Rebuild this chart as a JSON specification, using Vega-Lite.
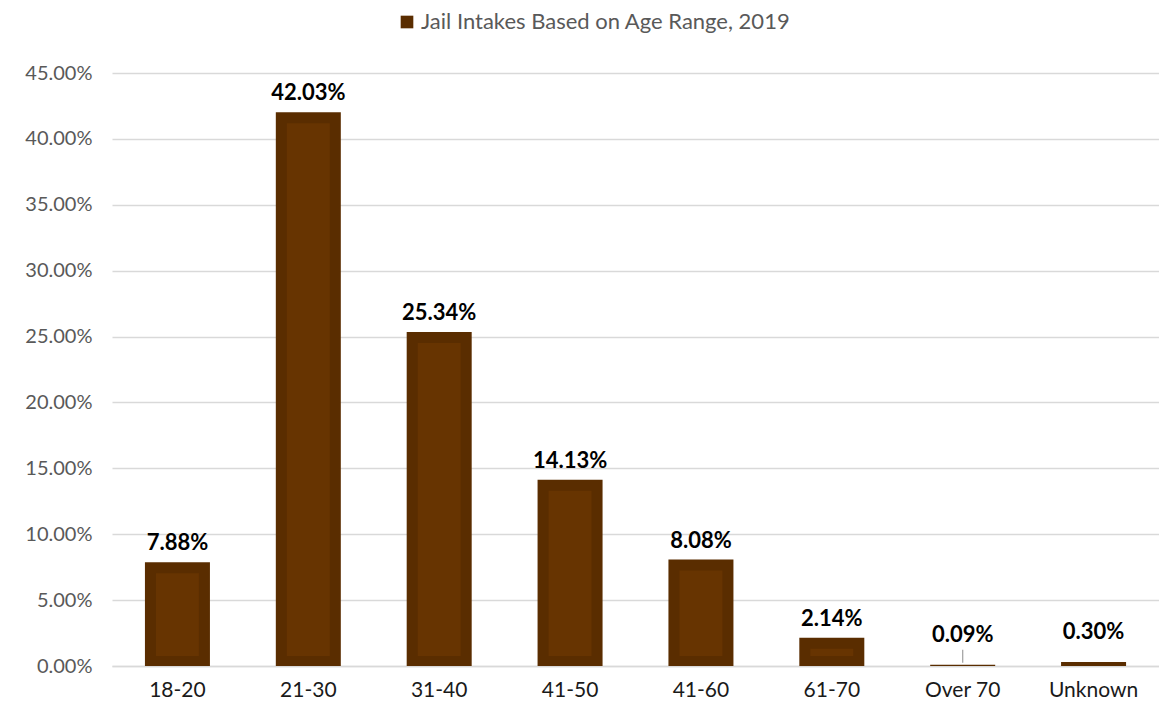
{
  "$schema": "https://vega.github.io/schema/vega-lite/v6.json",
  "autosize": "none",
  "width": 1047,
  "height": 593,
  "padding": {"left": 112, "top": 73, "right": 0, "bottom": 53},
  "background": "white",
  "config": {
    "font": "Lato",
    "view": {"stroke": null},
    "axis": {"labelFont": "Lato"}
  },
  "data": {
    "values": [
      {"age": "18-20", "pct": 0.0788, "series": "Jail Intakes Based on Age Range, 2019"},
      {"age": "21-30", "pct": 0.4203, "series": "Jail Intakes Based on Age Range, 2019"},
      {"age": "31-40", "pct": 0.2534, "series": "Jail Intakes Based on Age Range, 2019"},
      {"age": "41-50", "pct": 0.1413, "series": "Jail Intakes Based on Age Range, 2019"},
      {"age": "41-60", "pct": 0.0808, "series": "Jail Intakes Based on Age Range, 2019"},
      {"age": "61-70", "pct": 0.0214, "series": "Jail Intakes Based on Age Range, 2019"},
      {"age": "Over 70", "pct": 0.0009, "series": "Jail Intakes Based on Age Range, 2019"},
      {"age": "Unknown", "pct": 0.003, "series": "Jail Intakes Based on Age Range, 2019"}
    ]
  },
  "encoding": {
    "x": {
      "field": "age", "type": "nominal", "sort": null, "title": null,
      "scale": {"paddingInner": 0.5, "paddingOuter": 0.25},
      "axis": {"labelAngle": 0, "labelColor": "#1a1a1a", "labelFontSize": 21, "labelPadding": 13, "ticks": false, "domainColor": "#d9d9d9", "domainWidth": 1.3}
    },
    "y": {
      "field": "pct", "type": "quantitative", "title": null,
      "scale": {"domain": [0, 0.45]},
      "axis": {"format": ".2%", "values": [0, 0.05, 0.1, 0.15, 0.2, 0.25, 0.3, 0.35, 0.4, 0.45], "labelColor": "#595959", "labelFontSize": 20, "labelPadding": 20, "ticks": false, "domain": false, "gridColor": "#d9d9d9", "gridWidth": 1.3}
    }
  },
  "layer": [
    {
      "mark": {"type": "bar", "width": 65},
      "encoding": {
        "color": {
          "field": "series", "type": "nominal", "title": null,
          "scale": {"range": ["#5a2d00"]},
          "legend": {"orient": "none", "legendX": 284, "legendY": -62, "symbolType": "square", "symbolSize": 160, "symbolStrokeWidth": 0, "labelFontSize": 22, "labelColor": "#595959", "labelOffset": 3, "labelFont": "Lato", "labelLimit": 600}
        }
      }
    },
    {
      "transform": [{"filter": "datum.pct > 0.015"}],
      "mark": {"type": "bar", "width": 43, "color": "#673401", "yOffset": 11, "y2Offset": -10},
      "encoding": {"y2": {"datum": 0}}
    },
    {
      "transform": [{"filter": "datum.pct > 0.01"}],
      "mark": {"type": "text", "baseline": "alphabetic", "dy": -12, "fontSize": 22, "fontWeight": "bold", "color": "#000000", "font": "Lato"},
      "encoding": {"text": {"field": "pct", "type": "quantitative", "format": ".2%"}}
    },
    {
      "transform": [{"filter": "datum.pct <= 0.01"}],
      "mark": {"type": "text", "baseline": "alphabetic", "dy": -23, "fontSize": 22, "fontWeight": "bold", "color": "#000000", "font": "Lato"},
      "encoding": {"text": {"field": "pct", "type": "quantitative", "format": ".2%"}}
    },
    {
      "transform": [{"filter": "datum.age == 'Over 70'"}],
      "mark": {"type": "rule", "color": "#a6a6a6", "strokeWidth": 1.3, "yOffset": -2, "y2Offset": -15},
      "encoding": {"y2": {"field": "pct"}}
    }
  ]
}
